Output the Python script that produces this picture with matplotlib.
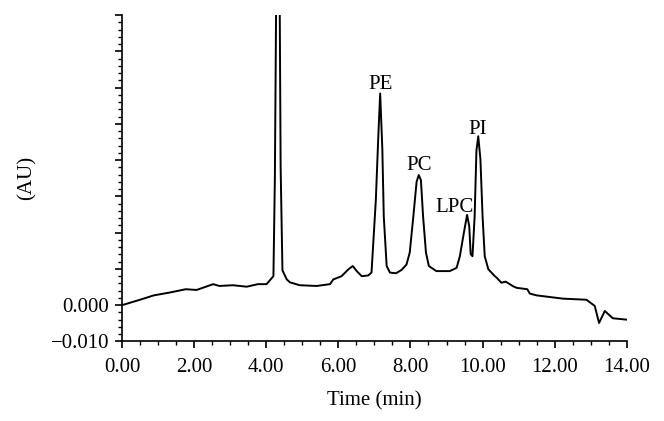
import matplotlib
matplotlib.use("Agg")
import matplotlib.pyplot as plt
from matplotlib.ticker import MultipleLocator, FixedLocator

plt.rcParams['font.family'] = ['Liberation Serif', 'DejaVu Serif']

# chromatogram trace: time (min) and absorbance (AU)
time = [0.00, 0.50, 0.88, 1.33, 1.77, 2.07, 2.53, 2.70, 3.08, 3.46, 3.77, 4.01,
        4.20, 4.24, 4.28, 4.32, 4.37, 4.40, 4.45, 4.57, 4.66, 4.93, 5.40, 5.77,
        5.86, 6.09, 6.28, 6.40, 6.51, 6.65, 6.83, 6.92, 7.04, 7.11, 7.16, 7.22,
        7.26, 7.34, 7.43, 7.60, 7.75, 7.89, 7.98, 8.08, 8.17, 8.23, 8.29, 8.35,
        8.43, 8.51, 8.72, 9.09, 9.28, 9.37, 9.48, 9.57, 9.63, 9.67, 9.72, 9.78,
        9.83, 9.88, 9.94, 10.00, 10.06, 10.16, 10.34, 10.39, 10.52, 10.64, 10.85,
        10.94, 11.24, 11.31, 11.50, 12.23, 12.88, 13.11, 13.23, 13.39, 13.61, 14.00]
absorb = [0.0000, 0.0015, 0.0027, 0.0035, 0.0044, 0.0042, 0.0058, 0.0053, 0.0055, 0.0051, 0.0058, 0.0058,
          0.0080, 0.0350, 0.0900, 0.0950, 0.0900, 0.0380, 0.0096, 0.0071, 0.0063, 0.0055, 0.0053, 0.0058,
          0.0071, 0.0080, 0.0099, 0.0108, 0.0094, 0.0080, 0.0082, 0.0090, 0.0290, 0.0470, 0.0584, 0.0431,
          0.0245, 0.0108, 0.0090, 0.0088, 0.0097, 0.0112, 0.0145, 0.0245, 0.0340, 0.0359, 0.0345, 0.0245,
          0.0145, 0.0108, 0.0094, 0.0094, 0.0103, 0.0135, 0.0199, 0.0249, 0.0218, 0.0141, 0.0135, 0.0245,
          0.0427, 0.0466, 0.0403, 0.0245, 0.0135, 0.0099, 0.0080, 0.0076, 0.0062, 0.0065, 0.0052,
          0.0048, 0.0044, 0.0032, 0.0027, 0.0018, 0.0015, -0.0002, -0.0049, -0.0016, -0.0036, -0.0040]

peak_names = ['PE', 'PC', 'LPC', 'PI']
peak_time = [7.17, 8.23, 9.23, 9.86]
peak_label_y = [0.0610, 0.0385, 0.0270, 0.0485]

xticks = [0, 2, 4, 6, 8, 10, 12, 14]
xticklabels = ['0.00', '2.00', '4.00', '6.00', '8.00', '10.00', '12.00', '14.00']
yticks = [-0.01, 0.0, 0.01, 0.02, 0.03, 0.04, 0.05, 0.06, 0.07, 0.08]
yticklabels = ['\u22120.010', '0.000', '', '', '', '', '', '', '', '']

fig = plt.figure(figsize=(6.64, 4.21), dpi=100)
ax = fig.add_axes([0.1837, 0.189, 0.7603, 0.775])

ax.plot(time, absorb, color='black', lw=1.4)

for name, t, y in zip(peak_names, peak_time, peak_label_y):
    ax.text(t, y, name, ha='center', va='center', fontsize=15)

ax.set_xlim(0, 14)
ax.set_ylim(-0.01, 0.08)
ax.set_xticks(xticks)
ax.set_xticklabels(xticklabels)
ax.xaxis.set_minor_locator(MultipleLocator(0.5))
ax.yaxis.set_major_locator(FixedLocator(yticks))
ax.set_yticklabels(yticklabels)
ax.yaxis.set_minor_locator(MultipleLocator(0.002))

ax.tick_params(which='major', direction='out', length=5, width=1.2, labelsize=15, pad=4)
ax.tick_params(axis='x', which='major', pad=7)
ax.tick_params(which='minor', direction='out', length=3, width=1.0)

for side in ['top', 'right']:
    ax.spines[side].set_visible(False)
for side in ['left', 'bottom']:
    ax.spines[side].set_linewidth(1.2)

ax.set_xlabel('Time (min)', fontsize=15, labelpad=10)
ax.set_ylabel('(AU)', fontsize=15, labelpad=10)

fig.savefig('out.png', dpi=100)
